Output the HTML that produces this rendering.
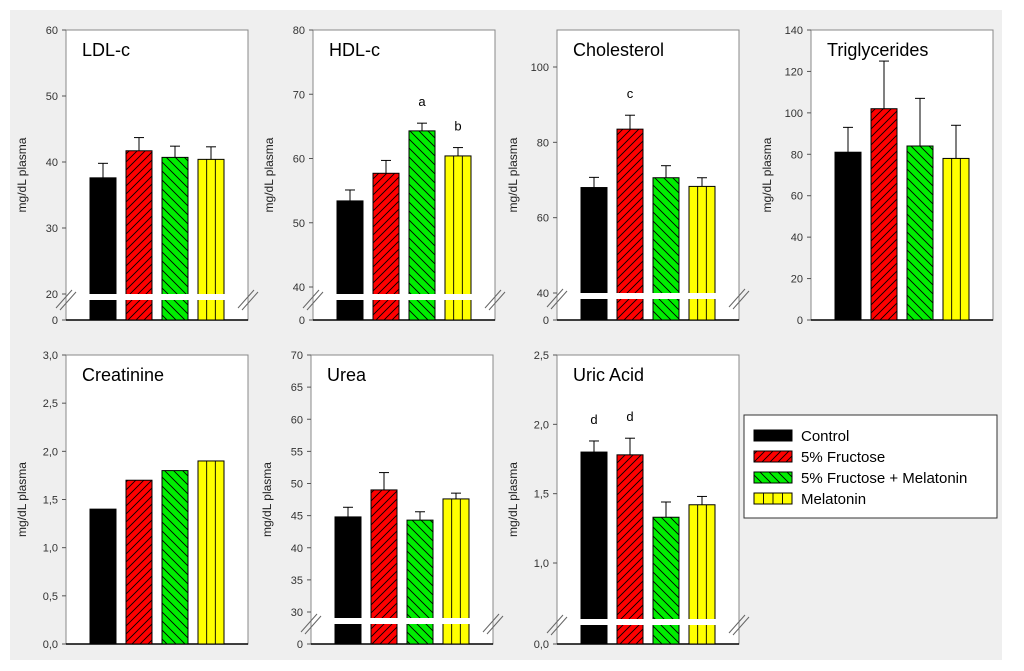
<!DOCTYPE html>
<html><head><meta charset="utf-8"><style>
html,body{margin:0;padding:0;background:#fff;}
svg{display:block;font-family:"Liberation Sans",Arial,sans-serif;}
</style></head><body>
<svg id="chart" width="1024" height="671" viewBox="0 0 1024 671">
<defs>
<pattern id="pRed" patternUnits="userSpaceOnUse" width="8" height="8"><rect width="8" height="8" fill="#ff0000"/><path d="M-2,2 L2,-2 M0,8 L8,0 M6,10 L10,6" stroke="#000" stroke-width="0.9"/></pattern>
<pattern id="pGreen" patternUnits="userSpaceOnUse" width="9" height="9"><rect width="9" height="9" fill="#00ee00"/><path d="M-2,7 L2,11 M0,0 L9,9 M7,-2 L11,2" stroke="#000" stroke-width="0.9"/></pattern>
</defs>
<rect x="10" y="10" width="992" height="650" fill="#efefef"/>
<g id="panels"></g>
<g>
<rect x="744" y="415" width="253" height="103" fill="#fff" stroke="#333" stroke-width="1"/>
<rect x="754" y="430" width="38" height="11" fill="#000" stroke="#000"/>
<text x="801" y="441" font-size="15">Control</text>
<rect x="754" y="451" width="38" height="11" fill="url(#pRed)" stroke="#000"/>
<text x="801" y="462" font-size="15">5% Fructose</text>
<rect x="754" y="472" width="38" height="11" fill="url(#pGreen)" stroke="#000"/>
<text x="801" y="483" font-size="15">5% Fructose + Melatonin</text>
<rect x="754" y="493" width="38" height="11" fill="#ffff00" stroke="#000"/>
<path d="M763.5,493V504M773,493V504M782.5,493V504" stroke="#000" stroke-width="0.9"/>
<text x="801" y="504" font-size="15">Melatonin</text>
</g>
</svg>
<script>
const groups = ["Control","5% Fructose","5% Fructose + Melatonin","Melatonin"];
const ldlValues = [37.6, 41.7, 40.7, 40.4];
const ldlErrors = [2.2, 2.0, 1.7, 1.9];
const hdlValues = [53.4, 57.7, 64.3, 60.4];
const hdlErrors = [1.7, 2.0, 1.2, 1.3];
const cholValues = [68.0, 83.5, 70.6, 68.3];
const cholErrors = [2.7, 3.7, 3.2, 2.3];
const trigValues = [81, 102, 84, 78];
const trigErrors = [12, 23, 23, 16];
const creatValues = [1.4, 1.7, 1.8, 1.9];
const creatErrors = [0, 0, 0, 0];
const ureaValues = [44.8, 49.0, 44.3, 47.6];
const ureaErrors = [1.5, 2.7, 1.3, 0.9];
const uricValues = [1.80, 1.78, 1.33, 1.42];
const uricErrors = [0.08, 0.12, 0.11, 0.06];
const ldlTicks = ["20","30","40","50","60"];
const hdlTicks = ["40","50","60","70","80"];
const cholTicks = ["40","60","80","100"];
const trigTicks = ["0","20","40","60","80","100","120","140"];
const creatTicks = ["0,0","0,5","1,0","1,5","2,0","2,5","3,0"];
const ureaTicks = ["30","35","40","45","50","55","60","65","70"];
const uricTicks = ["1,0","1,5","2,0","2,5"];
const hdlLetters = ["","","a","b"];
const cholLetters = ["","c","",""];
const uricLetters = ["d","d","",""];

const NS="http://www.w3.org/2000/svg";
function mk(tag, attrs, parent){const e=document.createElementNS(NS,tag);for(const k in attrs)e.setAttribute(k,attrs[k]);parent.appendChild(e);return e;}
const root=document.getElementById('panels');
const fills=["#000","url(#pRed)","url(#pGreen)","#ffff00"];
const num=s=>parseFloat(s.replace(',','.'));

// layout: x,top,bottom,w ; vTop/yTop, vLow/yLow mapping; break band
const panels=[
 {id:"ldl",title:"LDL-c",x:66,top:30,bot:320,vals:ldlValues,errs:ldlErrors,ticks:ldlTicks,vTop:60,yTop:30,vLow:20,yLow:294,brk:294},
 {id:"hdl",title:"HDL-c",x:313,top:30,bot:320,vals:hdlValues,errs:hdlErrors,ticks:hdlTicks,vTop:80,yTop:30,vLow:40,yLow:287,brk:294,letters:hdlLetters},
 {id:"cholesterol",title:"Cholesterol",x:557,top:30,bot:320,vals:cholValues,errs:cholErrors,ticks:cholTicks,vTop:100,yTop:67,vLow:40,yLow:293,brk:293,letters:cholLetters},
 {id:"triglycerides",title:"Triglycerides",x:811,top:30,bot:320,vals:trigValues,errs:trigErrors,ticks:trigTicks,vTop:140,yTop:30,vLow:0,yLow:320},
 {id:"creatinine",title:"Creatinine",x:66,top:355,bot:644,vals:creatValues,errs:creatErrors,ticks:creatTicks,vTop:3,yTop:355,vLow:0,yLow:644},
 {id:"urea",title:"Urea",x:311,top:355,bot:644,vals:ureaValues,errs:ureaErrors,ticks:ureaTicks,vTop:70,yTop:355,vLow:30,yLow:612,brk:618},
 {id:"uric-acid",title:"Uric Acid",x:557,top:355,bot:644,vals:uricValues,errs:uricErrors,ticks:uricTicks,vTop:2.5,yTop:355,vLow:1.0,yLow:563,brk:619,letters:uricLetters}
];
const W=182;
panels.forEach(p=>{
 const g=mk('g',{},root);
 
 
 const y=v=>p.yTop+(p.vTop-v)*(p.yLow-p.yTop)/(p.vTop-p.vLow);
 mk('rect',{x:p.x,y:p.top,width:W,height:p.bot-p.top,fill:"#fff",stroke:"#888","stroke-width":1},g);
 mk('line',{x1:p.x,x2:p.x+W,y1:p.bot,y2:p.bot,stroke:"#000","stroke-width":1.5},g);
 const t=mk('text',{x:p.x+16,y:p.top+26,"font-size":18},g);t.textContent=p.title;
 
 
 // ticks
 p.ticks.forEach(s=>{
  const ty=y(num(s));
  mk('line',{x1:p.x-4,x2:p.x,y1:ty,y2:ty,stroke:"#555"},g);
  const tl=mk('text',{x:p.x-8,y:ty+4,"font-size":11,"text-anchor":"end",fill:"#333"},g);tl.textContent=s;
  
  
 });
 if(p.brk){
  mk('line',{x1:p.x-4,x2:p.x,y1:p.bot,y2:p.bot,stroke:"#555"},g);
  const z=mk('text',{x:p.x-8,y:p.bot+4,"font-size":11,"text-anchor":"end",fill:"#333"},g);z.textContent=p.ticks[0].indexOf(',')>=0?"0,0":"0";
  
  
 }
 const yl=mk('text',{transform:`translate(${p.x-40},${(p.top+p.bot)/2}) rotate(-90)`,"font-size":12,"text-anchor":"middle",fill:"#222"},g);
 yl.textContent="mg/dL plasma";
 
 
 p.vals.forEach((v,i)=>{
  const bx=p.x+24+i*36, bw=26, by=y(v);
  const r=mk('rect',{x:bx,y:by,width:bw,height:p.bot-by,fill:fills[i],stroke:"#000","stroke-width":1},g);
  
  
  if(i===3){[1,2].forEach(k=>mk('line',{x1:bx+k*bw/3,x2:bx+k*bw/3,y1:by,y2:p.bot,stroke:"#000","stroke-width":0.9},g));}
  const e=p.errs[i];
  if(e>0){
   const cx=bx+bw/2, ey=y(v+e);
   mk('line',{x1:cx,x2:cx,y1:by,y2:ey,stroke:"#000"},g);
   mk('line',{x1:cx-5,x2:cx+5,y1:ey,y2:ey,stroke:"#000"},g);
  }
  if(p.letters&&p.letters[i]){
   const lt=mk('text',{x:bx+bw/2,y:y(v+e)-17,"font-size":13,"text-anchor":"middle"},g);lt.textContent=p.letters[i];
   
   
  }
 });
 if(p.brk){
  mk('rect',{x:p.x+1,y:p.brk,width:W-2,height:6,fill:"#fff"},g);
  [p.x,p.x+W].forEach(bx=>{
   mk('line',{x1:bx-10,x2:bx+6,y1:p.brk+14,y2:p.brk-4,stroke:"#666"},g);
   mk('line',{x1:bx-6,x2:bx+10,y1:p.brk+16,y2:p.brk-2,stroke:"#666"},g);
  });
 }
});
</script>
</body></html>
